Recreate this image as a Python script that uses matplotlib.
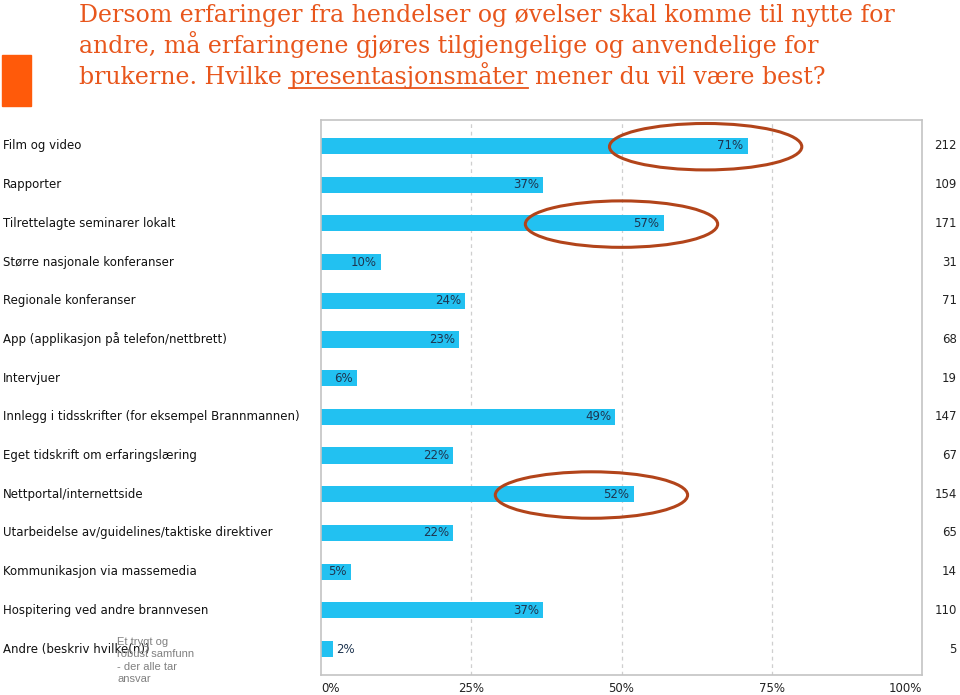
import matplotlib
matplotlib.use("Agg")
import matplotlib.pyplot as plt
import matplotlib.transforms as mtrans
from matplotlib.patches import Ellipse, Rectangle

categories = [
    "Film og video",
    "Rapporter",
    "Tilrettelagte seminarer lokalt",
    "Større nasjonale konferanser",
    "Regionale konferanser",
    "App (applikasjon på telefon/nettbrett)",
    "Intervjuer",
    "Innlegg i tidsskrifter (for eksempel Brannmannen)",
    "Eget tidskrift om erfaringslæring",
    "Nettportal/internettside",
    "Utarbeidelse av/guidelines/taktiske direktiver",
    "Kommunikasjon via massemedia",
    "Hospitering ved andre brannvesen",
    "Andre (beskriv hvilke(n))",
]
percent = [71, 37, 57, 10, 24, 23, 6, 49, 22, 52, 22, 5, 37, 2]
counts = [212, 109, 171, 31, 71, 68, 19, 147, 67, 154, 65, 14, 110, 5]
xticks = [0, 25, 50, 75, 100]
xtick_labels = ["0%", "25%", "50%", "75%", "100%"]
highlighted = ["Film og video", "Tilrettelagte seminarer lokalt", "Nettportal/internettside"]

title_lines = [
    "Dersom erfaringer fra hendelser og øvelser skal komme til nytte for",
    "andre, må erfaringene gjøres tilgjengelige og anvendelige for",
]
title_last = ["brukerne. Hvilke", "presentasjonsmåter", "mener du vil være best?"]
overlay_text = "Et trygt og\nrobust samfunn\n- der alle tar\nansvar"

W, H = 960, 695
fig = plt.figure(figsize=(9.6, 6.95), dpi=100)

def fx(px):
    return px / W

def fy(py):
    return 1 - py / H

ax = fig.add_axes([fx(321), fy(675), fx(922) - fx(321), fy(120) - fy(675)])
n = len(categories)
y = list(range(n))
bar_color = "#22C1F1"
ax.barh(y, percent, height=0.42, color=bar_color, zorder=2)
ax.set_xlim(0, 100)
ax.set_ylim(n - 1 + 0.67, -0.67)

for x in [25, 50, 75]:
    ax.axvline(x, color="#cfcfcf", lw=0.9, ls=(0, (3, 3)), zorder=1)

for s in ax.spines.values():
    s.set_color("#c4c4c4")
    s.set_linewidth(1.2)
ax.set_xticks([])
ax.set_yticks([])

lab_col = "#1e3550"
for i, p in enumerate(percent):
    if p >= 4:
        ax.annotate(f"{p}%", (p, i), xytext=(-3, 0), textcoords="offset points",
                    ha="right", va="center", fontsize=8.5, color=lab_col, zorder=3)
    else:
        ax.annotate(f"{p}%", (p, i), xytext=(2, 0), textcoords="offset points",
                    ha="left", va="center", fontsize=8.5, color=lab_col, zorder=3)

blend_left = mtrans.blended_transform_factory(fig.transFigure, ax.transData)
for i, c in enumerate(categories):
    ax.text(fx(3), i, c, transform=blend_left, ha="left", va="center",
            fontsize=8.5, color="#111111", clip_on=False)
for i, c in enumerate(counts):
    ax.text(fx(957), i, str(c), transform=blend_left, ha="right", va="center",
            fontsize=8.5, color="#222222", clip_on=False)

# x tick labels
aligns = ["left", "center", "center", "center", "right"]
blend_x = mtrans.blended_transform_factory(ax.transData, fig.transFigure)
for xv, lab, al in zip(xticks, xtick_labels, aligns):
    ax.text(xv, fy(688), lab, transform=blend_x, ha=al, va="center",
            fontsize=8.5, color="#222222", clip_on=False)

# ellipses
ell_col = "#B2441A"
for name in highlighted:
    i = categories.index(name)
    p = percent[i]
    e = Ellipse((p - 7.0, i + 0.02), width=32, height=1.2, fill=False,
                edgecolor=ell_col, lw=2.2, zorder=4, clip_on=False)
    ax.add_patch(e)

# title
orange = "#E8561C"
fig.patches.append(Rectangle((fx(2), fy(106)), fx(31) - fx(2), fy(55) - fy(106),
                             transform=fig.transFigure, color="#FF5A0A", zorder=0))
tfont = dict(family="DejaVu Serif", fontsize=17, color=orange)
for k, line in enumerate(title_lines):
    fig.text(fx(79), fy(22 + 31 * k), line, ha="left", va="baseline", **tfont)

fig.canvas.draw()
r = fig.canvas.get_renderer()

def width_of(s):
    t = fig.text(0, 0, s, **tfont)
    w = t.get_window_extent(renderer=r).width
    t.remove()
    return w

space_w = width_of("a a") - width_of("aa")
xp = 79.0
for j, part in enumerate(title_last):
    t = fig.text(fx(xp), fy(84), part, ha="left", va="baseline", **tfont)
    w = t.get_window_extent(renderer=r).width
    if j == 1:
        fig.add_artist(plt.Line2D([fx(xp), fx(xp + w)], [fy(88), fy(88)],
                                  transform=fig.transFigure, color=orange, lw=1.3))
    xp += w + space_w

fig.text(fx(117), fy(637), overlay_text, ha="left", va="top",
         family="Liberation Sans", fontsize=8, color="#808080", linespacing=1.3)

fig.savefig("out.png", dpi=100)
